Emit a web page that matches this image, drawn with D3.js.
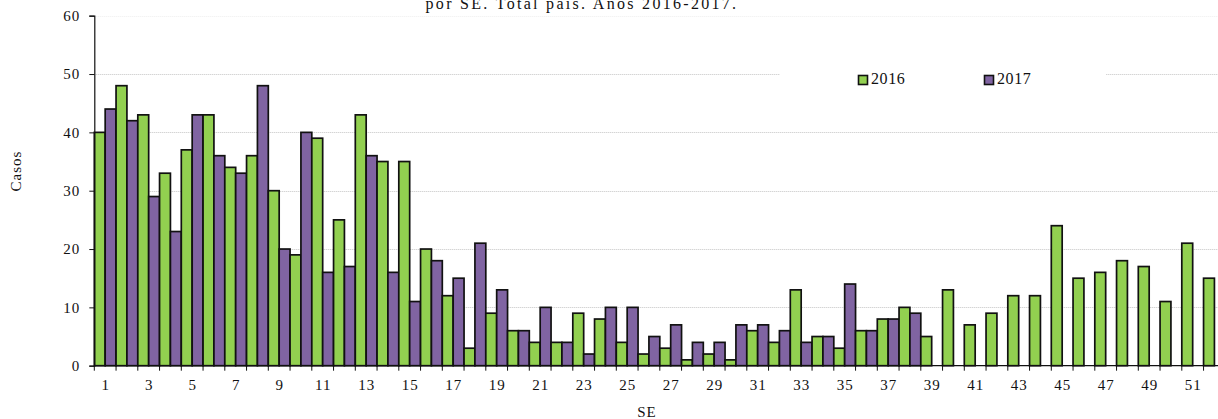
<!DOCTYPE html>
<html>
<head>
<meta charset="utf-8">
<script src="https://cdn.jsdelivr.net/npm/d3@7"></script>
<style>
  html, body { margin: 0; padding: 0; background: #fff; }
  svg { display: block; }
  text { font-family: "Liberation Serif", "Times New Roman", serif; fill: #111; }
</style>
</head>
<body>
<svg id="chart" width="1218" height="419"></svg>
<script>
// Epidemiological weeks (SE) 1..52
const weeks = d3.range(1, 53);
// Cases per week, 2016
const cases2016 = [40, 48, 43, 33, 37, 43, 34, 36, 30, 19, 39, 25, 43, 35, 35, 20, 12, 3, 9, 6,
                   4, 4, 9, 8, 4, 2, 3, 1, 2, 1, 6, 4, 13, 5, 3, 6, 8, 10, 5, 13,
                   7, 9, 12, 12, 24, 15, 16, 18, 17, 11, 21, 15];
// Cases per week, 2017 (reported up to week 38)
const cases2017 = [44, 42, 29, 23, 43, 36, 33, 48, 20, 40, 16, 17, 36, 16, 11, 18, 15, 21, 13, 6,
                   10, 4, 2, 10, 10, 5, 7, 4, 4, 7, 7, 6, 4, 5, 14, 6, 8, 9];
const seriesNames = ["2016", "2017"];
const seriesColors = ["#92D050", "#8064A2"];
const yTicks = [0, 10, 20, 30, 40, 50, 60];
const titleText = "por SE. Total país. Años 2016-2017.";

const svg = d3.select("#chart");
const plotLeft = 94.3, plotRight = 1225.3, plotTop = 15.7, plotBottom = 365.7;

const x = d3.scaleBand().domain(weeks).range([plotLeft, plotRight]).padding(0);
const xs = d3.scaleBand().domain(seriesNames).range([0, x.bandwidth()]).padding(0);
const y = d3.scaleLinear().domain([0, 60]).range([plotBottom, plotTop]);

// Title (its upper part runs past the top of the canvas)
svg.append("text")
  .attr("x", 582).attr("y", 8.5)
  .attr("text-anchor", "middle")
  .attr("font-size", 16)
  .attr("letter-spacing", 2.3)
  .text(titleText);

// Horizontal gridlines
svg.append("g").selectAll("line")
  .data(yTicks.filter(d => d > 0))
  .join("line")
  .attr("x1", plotLeft).attr("x2", 1218)
  .attr("y1", d => Math.round(y(d)) + 0.5).attr("y2", d => Math.round(y(d)) + 0.5)
  .attr("stroke", d => d === 60 ? "#eeeeee" : "#c4c4c4")
  .attr("stroke-width", 1)
  .attr("stroke-dasharray", "1,1");

// Legend background hides the gridline behind it
svg.append("rect")
  .attr("x", 780).attr("y", 48).attr("width", 326).attr("height", 62)
  .attr("fill", "#fff");

// Bars
const rows = weeks.map((w, i) => ({ week: w, values: [cases2016[i], cases2017[i]] }));
const groups = svg.append("g").selectAll("g")
  .data(rows)
  .join("g")
  .attr("transform", d => `translate(${x(d.week)},0)`);

groups.selectAll("rect")
  .data(d => seriesNames.map((s, k) => ({ series: s, value: d.values[k], k }))
    .filter(v => v.value !== undefined && v.value !== null))
  .join("rect")
  .attr("x", d => xs(d.series))
  .attr("width", xs.bandwidth())
  .attr("y", d => y(d.value))
  .attr("height", d => y(0) - y(d.value))
  .attr("fill", d => seriesColors[d.k])
  .attr("stroke", "#111")
  .attr("stroke-width", 1.7);

// Y axis
const yAxis = svg.append("g")
  .attr("transform", `translate(${plotLeft},0)`)
  .call(d3.axisLeft(y).tickValues(yTicks).tickSize(5).tickPadding(9));
yAxis.select(".domain").attr("stroke", "#111").attr("stroke-width", 1.2);
yAxis.selectAll(".tick line").attr("stroke", "#111");
yAxis.selectAll(".tick text")
  .attr("font-size", 15).attr("letter-spacing", 1)
  .attr("font-family", "Liberation Serif, serif").attr("fill", "#111");

// X axis: ticks at week boundaries, labels on odd weeks
const xAxisG = svg.append("g").attr("transform", `translate(0,${plotBottom})`);
xAxisG.append("line")
  .attr("x1", plotLeft).attr("x2", 1218)
  .attr("y1", 0).attr("y2", 0)
  .attr("stroke", "#111").attr("stroke-width", 1.2);
xAxisG.selectAll("line.tk")
  .data(weeks)
  .join("line")
  .attr("class", "tk")
  .attr("x1", d => x(d)).attr("x2", d => x(d))
  .attr("y1", 0).attr("y2", 5)
  .attr("stroke", "#111");
xAxisG.selectAll("text")
  .data(weeks.filter(w => w % 2 === 1))
  .join("text")
  .attr("x", d => x(d) + x.bandwidth() / 2 + 0.5)
  .attr("y", 24)
  .attr("text-anchor", "middle")
  .attr("font-size", 15)
  .attr("letter-spacing", 1)
  .text(d => d);

// Axis titles
svg.append("text")
  .attr("transform", "translate(21,171) rotate(-90)")
  .attr("text-anchor", "middle")
  .attr("font-size", 15)
  .attr("letter-spacing", 1)
  .text("Casos");
svg.append("text")
  .attr("x", 647).attr("y", 417)
  .attr("text-anchor", "middle")
  .attr("font-size", 15)
  .attr("letter-spacing", 1)
  .text("SE");

// Legend
const legend = svg.append("g");
const legendX = [858, 984];
seriesNames.forEach((s, k) => {
  legend.append("rect")
    .attr("x", legendX[k] + 0.5).attr("y", 75.5)
    .attr("width", 9).attr("height", 9)
    .attr("fill", seriesColors[k])
    .attr("stroke", "#111").attr("stroke-width", 1.6);
  legend.append("text")
    .attr("x", legendX[k] + 13).attr("y", 84)
    .attr("font-size", 16)
    .attr("letter-spacing", 0.6)
    .text(s);
});
</script>
</body>
</html>
